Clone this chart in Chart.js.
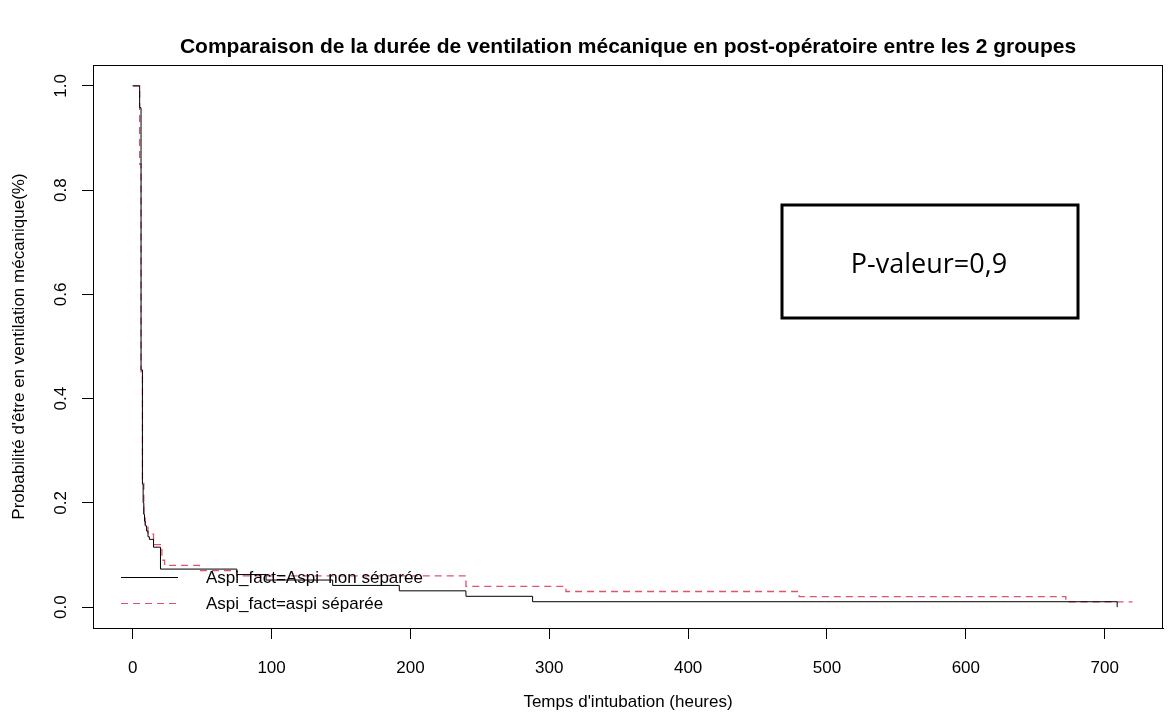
<!DOCTYPE html>
<html>
<head>
<meta charset="utf-8">
<script src="https://cdn.jsdelivr.net/npm/chart.js@4.4.1/dist/chart.umd.min.js"></script>
<style>
  html, body { margin: 0; padding: 0; background: #fff; }
  canvas { display: block; }
</style>
</head>
<body>
<canvas id="kmChart" width="1169" height="713"></canvas>
<script>
// Kaplan-Meier curves (time in hours, survival probability)
const nonSepTimes = [0, 5, 6, 7, 7.5, 8, 8.5, 9, 10, 11, 12, 15, 20, 75, 96, 144, 192, 240, 288, 709];
const nonSepSurv  = [1, 0.958, 0.455, 0.236, 0.2, 0.178, 0.165, 0.156, 0.146, 0.135, 0.13, 0.115, 0.073, 0.0625, 0.052, 0.0417, 0.0313, 0.0208, 0.0104, 0];

const sepTimes = [0, 5, 6, 7, 8, 9, 11, 15, 21, 23, 48, 75, 240, 312, 480, 672, 720];
const sepSurv  = [1, 0.85, 0.45, 0.24, 0.18, 0.16, 0.14, 0.12, 0.09, 0.08, 0.07, 0.06, 0.04, 0.03, 0.02, 0.01, 0.01];

const xTicks = [0, 100, 200, 300, 400, 500, 600, 700];
const yTicks = [0, 0.2, 0.4, 0.6, 0.8, 1.0];

const chartTitle = 'Comparaison de la durée de ventilation mécanique en post-opératoire entre les 2 groupes';
const legendLabels = ['Aspi_fact=Aspi  non séparée', 'Aspi_fact=aspi séparée'];
const pValueText = 'P-valeur=0,9';

const RED = '#DF536B';
const FONT = "'Liberation Sans', Arial, sans-serif";

const toPoints = (xs, ys) => xs.map((x, i) => ({ x: x, y: ys[i] }));

// title, box round the plot, legend and the p-value frame
const extrasPlugin = {
    id: 'extras',
    afterDraw(chart) {
        const { ctx, chartArea: a } = chart;
        ctx.save();
        ctx.strokeStyle = '#000';
        ctx.lineWidth = 1;
        ctx.strokeRect(a.left + 0.5, a.top + 0.5, a.right - a.left - 1, a.bottom - a.top);

        // main title, centred over the plot box
        ctx.fillStyle = '#000';
        ctx.font = 'bold 21px ' + FONT;
        ctx.textAlign = 'center';
        ctx.textBaseline = 'middle';
        ctx.fillText(chartTitle, (a.left + a.right) / 2, 47);

        // legend (no frame)
        const rows = [
            { y: 577, color: '#000', dash: [] },
            { y: 603, color: RED, dash: [7, 5] }
        ];
        ctx.font = '17px ' + FONT;
        ctx.textAlign = 'left';
        rows.forEach((r, i) => {
            ctx.beginPath();
            ctx.setLineDash(r.dash);
            ctx.strokeStyle = r.color;
            ctx.moveTo(121, r.y + 0.5);
            ctx.lineTo(178, r.y + 0.5);
            ctx.stroke();
            ctx.setLineDash([]);
            ctx.fillStyle = '#000';
            ctx.fillText(legendLabels[i], 206, r.y + 1);
        });

        // p-value box
        ctx.lineWidth = 3;
        ctx.strokeStyle = '#000';
        ctx.strokeRect(782, 205, 296, 113);
        ctx.font = "27px 'Open Sans', sans-serif";
        ctx.textAlign = 'center';
        ctx.textBaseline = 'alphabetic';
        ctx.fillStyle = '#000';
        ctx.fillText(pValueText, 929, 273);
        ctx.restore();
    }
};

const ctx = document.getElementById('kmChart').getContext('2d');

new Chart(ctx, {
    type: 'line',
    data: {
        datasets: [
            {
                label: legendLabels[0],
                data: toPoints(nonSepTimes, nonSepSurv),
                borderColor: '#000',
                borderWidth: 1,
                stepped: 'before',
                pointRadius: 0,
                fill: false
            },
            {
                label: legendLabels[1],
                data: toPoints(sepTimes, sepSurv),
                borderColor: RED,
                borderWidth: 1.3,
                borderDash: [7, 5],
                stepped: 'before',
                pointRadius: 0,
                fill: false
            }
        ]
    },
    options: {
        responsive: false,
        animation: false,
        devicePixelRatio: 1,
        layout: { padding: { left: 0, right: 6, top: 65, bottom: 0 } },
        plugins: {
            legend: { display: false },
            tooltip: { enabled: false },
            title: { display: false }
        },
        scales: {
            x: {
                type: 'linear',
                min: -28.6,
                max: 742,
                afterBuildTicks: (axis) => { axis.ticks = xTicks.map(v => ({ value: v })); },
                afterFit: (axis) => { axis.height = 85; },
                grid: { drawOnChartArea: false, drawTicks: true, tickLength: 11, color: '#000' },
                border: { display: true, color: '#000' },
                ticks: {
                    color: '#000',
                    font: { family: FONT, size: 17 },
                    padding: 19,
                    maxRotation: 0,
                    callback: (v) => String(v)
                },
                title: {
                    display: true,
                    text: "Temps d'intubation (heures)",
                    color: '#000',
                    font: { family: FONT, size: 17 },
                    padding: { top: 0, bottom: 0 }
                }
            },
            y: {
                type: 'linear',
                min: -0.04,
                max: 1.04,
                afterBuildTicks: (axis) => { axis.ticks = yTicks.map(v => ({ value: v })); },
                afterFit: (axis) => { axis.width = 93; },
                grid: { drawOnChartArea: false, drawTicks: true, tickLength: 11, color: '#000' },
                border: { display: true, color: '#000' },
                ticks: {
                    color: '#000',
                    font: { family: FONT, size: 17 },
                    padding: 9,
                    minRotation: 90,
                    maxRotation: 90,
                    crossAlign: 'center',
                    callback: (v) => v.toFixed(1)
                },
                title: {
                    display: true,
                    text: "Probabilité d'être en ventilation mécanique(%)",
                    color: '#000',
                    font: { family: FONT, size: 17 },
                    padding: { top: 9, bottom: 0 }
                }
            }
        }
    },
    plugins: [extrasPlugin]
});
</script>
</body>
</html>
